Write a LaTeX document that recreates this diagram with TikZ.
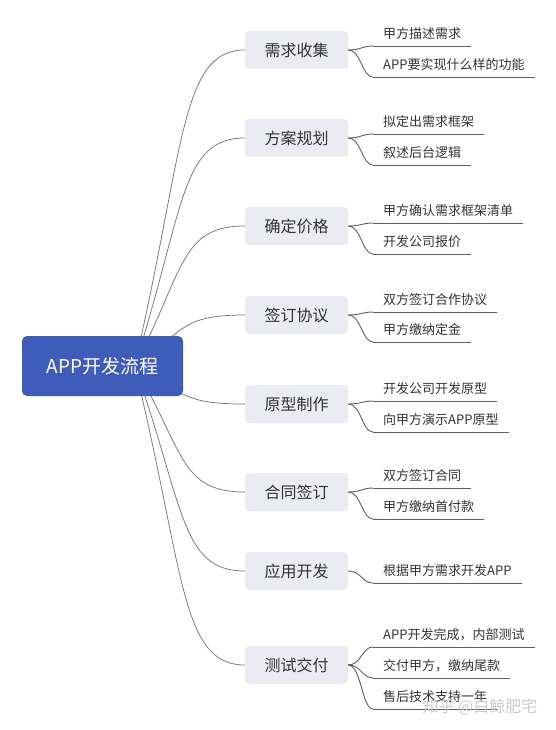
\documentclass[tikz,border=0pt]{standalone}
\usepackage{fontspec}
\setmainfont{Noto Sans CJK SC}
\usetikzlibrary{calc}
\definecolor{rootblue}{RGB}{64,92,186}
\definecolor{topicfill}{RGB}{235,235,243}
\definecolor{txt}{RGB}{51,51,51}
\definecolor{rlc}{RGB}{120,120,120}
\definecolor{llc}{RGB}{95,95,95}
\pgfdeclarelayer{bg}
\pgfsetlayers{bg,main}
\begin{document}
\begin{tikzpicture}[x=1pt,y=-1pt,
  rootbox/.style={fill=rootblue, rounded corners=5pt, minimum width=161pt, minimum height=60pt, inner sep=0pt, text=white, font=\fontsize{19}{19}\selectfont},
  topicbox/.style={fill=topicfill, rounded corners=4pt, minimum width=103pt, minimum height=38pt, inner sep=0pt, text=txt, font=\fontsize{16}{16}\selectfont},
  leafbox/.style={anchor=south west, inner xsep=10pt, inner ysep=0pt, minimum height=24pt, text=txt, font=\fontsize{13}{13}\selectfont},
  rconn/.style={draw=rlc, line width=0.75pt},
  lconn/.style={draw=llc, line width=0.9pt},
  uline/.style={draw=llc, line width=0.9pt}]
\useasboundingbox (0,0) rectangle (555,730);

\node[rootbox] (root) at (102.5,366) {APP开发流程};
\coordinate (o) at ([xshift=32pt]root.center);

\node[topicbox] (t1) at (296.5,50) {需求收集};
\node[topicbox] (t2) at (296.5,138) {方案规划};
\node[topicbox] (t3) at (296.5,226) {确定价格};
\node[topicbox] (t4) at (296.5,315) {签订协议};
\node[topicbox] (t5) at (296.5,404) {原型制作};
\node[topicbox] (t6) at (296.5,492) {合同签订};
\node[topicbox] (t7) at (296.5,571) {应用开发};
\node[topicbox] (t8) at (296.5,665) {测试交付};

\begin{pgfonlayer}{bg}
\foreach \t in {t1,t2,t3,t4,t5,t6,t7,t8}{
  \draw[rconn] (o) .. controls ($(o)!0.68!(o |- \t.west)+(50,0)$) and ($(\t.west)+(-65,0)$) .. (\t.west);
}
\end{pgfonlayer}

\node[leafbox] (l11) at (373,46) {甲方描述需求};
\node[leafbox] (l12) at (373,77) {APP要实现什么样的功能};
\node[leafbox] (l21) at (373,134) {拟定出需求框架};
\node[leafbox] (l22) at (373,165) {叙述后台逻辑};
\node[leafbox] (l31) at (373,223) {甲方确认需求框架清单};
\node[leafbox] (l32) at (373,254) {开发公司报价};
\node[leafbox] (l41) at (373,312) {双方签订合作协议};
\node[leafbox] (l42) at (373,342) {甲方缴纳定金};
\node[leafbox] (l51) at (373,401) {开发公司开发原型};
\node[leafbox] (l52) at (373,432) {向甲方演示APP原型};
\node[leafbox] (l61) at (373,488) {双方签订合同};
\node[leafbox] (l62) at (373,519) {甲方缴纳首付款};
\node[leafbox] (l71) at (373,583) {根据甲方需求开发APP};
\node[leafbox] (l81) at (373,647) {APP开发完成，内部测试};
\node[leafbox] (l82) at (373,678) {交付甲方，缴纳尾款};
\node[leafbox] (l83) at (373,709) {售后技术支持一年};

\foreach \t/\l in {t1/l11,t1/l12,t2/l21,t2/l22,t3/l31,t3/l32,t4/l41,t4/l42,t5/l51,t5/l52,t6/l61,t6/l62,t7/l71,t8/l81,t8/l82,t8/l83}{
  \draw[lconn] (\t.east) .. controls +(13,0) and +(-11,0) .. (\l.south west);
  \draw[uline] (\l.south west) -- (\l.south east);
}

\node[text=gray!45, opacity=0.9, font=\fontsize{16}{16}\selectfont] (wm) at (480,707) {知乎 @白鲸肥宅};
\end{tikzpicture}
\end{document}
